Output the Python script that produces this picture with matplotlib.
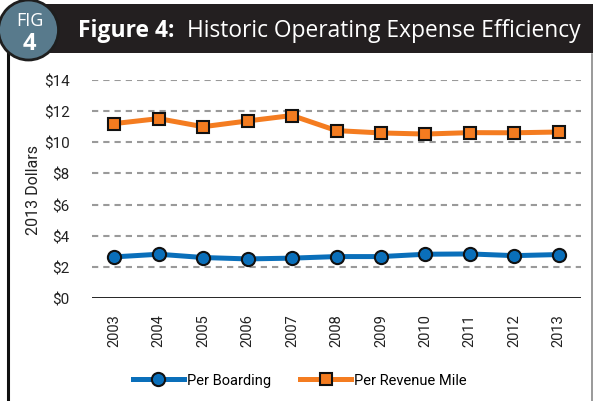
import matplotlib
matplotlib.use("Agg")
import matplotlib.pyplot as plt
from matplotlib.patches import Rectangle, Circle

years = ["2003", "2004", "2005", "2006", "2007", "2008",
         "2009", "2010", "2011", "2012", "2013"]
per_boarding = [2.64, 2.81, 2.60, 2.51, 2.56, 2.66, 2.66, 2.81, 2.83, 2.72, 2.79]
per_revenue_mile = [11.20, 11.52, 11.00, 11.37, 11.72, 10.75, 10.60, 10.53, 10.62, 10.61, 10.66]
y_ticks = [0, 2, 4, 6, 8, 10, 12, 14]

BLUE = "#0a6fba"
ORANGE = "#f47c20"
TICK_FONT = "Roboto"
TITLE_FONT = "Open Sans"

W, H = 593, 402
fig = plt.figure(figsize=(W / 100, H / 100), dpi=100)

# header and frame, drawn on a full-figure axes in pixel coords
ax_c = fig.add_axes([0, 0, 1, 1], facecolor="none")
ax_c.set_xlim(0, W)
ax_c.set_ylim(H, 0)
ax_c.axis("off")
ax_c.plot([8, 8], [55, H], color="#111111", lw=2.2, zorder=1)
ax_c.plot([592, 592], [55, H], color="#888888", lw=1.2, zorder=1)
ax_c.add_patch(Rectangle((22, 5), W - 22, 49, facecolor="#231f20", edgecolor="none", zorder=2))
ax_c.add_patch(Circle((28.5, 31), 30, facecolor="#587a8c", edgecolor="#1e1e1e", lw=2, zorder=3))
ax_c.text(29.5, 26, "FIG", color="white", fontsize=13, ha="center", va="baseline",
          family=TITLE_FONT, zorder=4)
ax_c.text(29.5, 50, "4", color="white", fontsize=17, ha="center", va="baseline",
          family=TITLE_FONT, fontweight="bold", zorder=4)
ax_c.text(78, 37, "Figure 4:", color="white", fontsize=16.5, ha="left", va="baseline",
          family=TITLE_FONT, fontweight="bold", zorder=4)
ax_c.text(187, 37, "Historic Operating Expense Efficiency", color="white", fontsize=16.4,
          ha="left", va="baseline", family=TITLE_FONT, zorder=4)

# main chart
ax = fig.add_axes([92 / W, 1 - 299 / H, 489 / W, 218 / H])
x = list(range(len(years)))

for v in y_ticks[1:]:
  ax.axhline(v, color="#9a9a9a", lw=1.5, dashes=(3.0, 2.4), zorder=1)
ax.axhline(0, color="#111111", lw=2, zorder=2)

ax.plot(x, per_boarding, color=BLUE, lw=3.6, marker="o", markersize=9.5,
        markerfacecolor=BLUE, markeredgecolor="#111111", markeredgewidth=1.5,
        label="Per Boarding", zorder=3)
ax.plot(x, per_revenue_mile, color=ORANGE, lw=3.6, marker="s", markersize=9,
        markerfacecolor=ORANGE, markeredgecolor="#111111", markeredgewidth=1.5,
        label="Per Revenue Mile", zorder=3)

ax.set_xlim(-0.5, len(years) - 0.5)
ax.set_ylim(0, 14)
ax.set_xticks(x)
ax.set_xticklabels(years, rotation=90, family=TICK_FONT, fontsize=10.5, color="#222222")
ax.set_yticks(y_ticks)
ax.set_yticklabels(["${}".format(v) for v in y_ticks], family=TICK_FONT, fontsize=11,
                   color="#222222")
ax.tick_params(length=0, pad=11)
ax.tick_params(axis="y", pad=16)
for s in ax.spines.values():
  s.set_visible(False)
ax.set_ylabel("2013 Dollars", family=TICK_FONT, fontsize=11.5, color="#222222", labelpad=2)

ax.legend(loc="center", bbox_to_anchor=(0.425, -0.375), ncol=2, frameon=False,
          prop={"family": TICK_FONT, "size": 10.5}, handlelength=3.5, handletextpad=0.2,
          columnspacing=2.0)

fig.savefig("out.png", dpi=100)
